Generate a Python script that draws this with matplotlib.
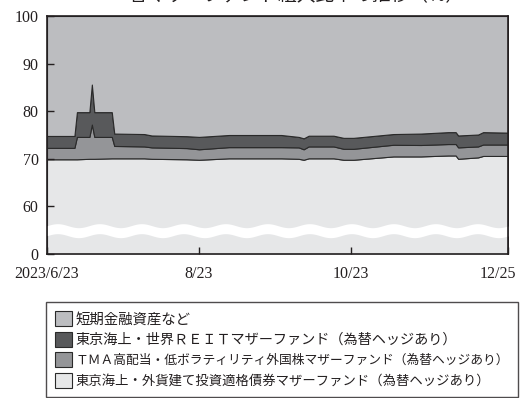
import numpy as np
import pandas as pd
import matplotlib
matplotlib.use("Agg")
import matplotlib.pyplot as plt
import matplotlib.transforms as mtransforms
from matplotlib.patches import Patch

# ---- data (percent shares of each mother fund) ----
dates = ["2023-06-23", "2023-07-04", "2023-07-05", "2023-07-10", "2023-07-11",
         "2023-07-12", "2023-07-19", "2023-07-20", "2023-08-01", "2023-08-04",
         "2023-08-18", "2023-08-23", "2023-09-04", "2023-09-25", "2023-10-02",
         "2023-10-04", "2023-10-06", "2023-10-16", "2023-10-20", "2023-10-24",
         "2023-11-09", "2023-11-20", "2023-12-01", "2023-12-04", "2023-12-05",
         "2023-12-13", "2023-12-15", "2023-12-25"]
bond = [69.9, 69.9, 69.9, 70.0, 70.0, 70.0, 70.1, 70.1, 70.1, 70.0,
        69.9, 69.8, 70.1, 70.1, 70.0, 69.8, 70.1, 70.1, 69.8, 69.8,
        70.5, 70.5, 70.7, 70.7, 70.0, 70.3, 70.6, 70.6]
tma = [2.4, 2.4, 4.7, 4.6, 7.2, 4.6, 4.5, 2.6, 2.5, 2.4,
       2.35, 2.2, 2.35, 2.35, 2.4, 2.2, 2.5, 2.5, 2.3, 2.3,
       2.45, 2.4, 2.4, 2.4, 2.4, 2.3, 2.4, 2.4]
reit = [2.5, 2.5, 5.2, 5.2, 8.4, 5.2, 5.2, 2.6, 2.6, 2.5,
        2.5, 2.6, 2.55, 2.55, 2.2, 2.3, 2.25, 2.25, 2.3, 2.3,
        2.25, 2.4, 2.5, 2.5, 2.5, 2.5, 2.6, 2.5]

labels = ["短期金融資産など",
          "東京海上・世界ＲＥＩＴマザーファンド（為替ヘッジあり）",
          "ＴＭＡ高配当・低ボラティリティ外国株マザーファンド（為替ヘッジあり）",
          "東京海上・外貨建て投資適格債券マザーファンド（為替ヘッジあり）"]
tick_dates = ["2023-06-23", "2023-08-23", "2023-10-23", "2023-12-25"]
tick_labels = ["2023/6/23", "8/23", "10/23", "12/25"]
y_ticks = [50, 60, 70, 80, 90, 100]
y_labels = ["0", "60", "70", "80", "90", "100"]
title = "各マザーファンド組入比率の推移（%）"

c_short = "#bcbdc0"
c_reit = "#58595b"
c_tma = "#949598"
c_bond = "#e6e7e8"

x = pd.to_datetime(dates)
bond_a = np.array(bond)
tma_a = np.array(tma)
reit_a = np.array(reit)
short_a = 100 - bond_a - tma_a - reit_a

plt.rcParams['font.family'] = ['Liberation Serif', 'Noto Sans CJK JP']

fig = plt.figure(figsize=(5.22, 3.98), dpi=100)
ax = fig.add_axes([47/522, 1-254/398, (508-47)/522, (254-16)/398])

ax.stackplot(x, bond_a, tma_a, reit_a, short_a,
             colors=[c_bond, c_tma, c_reit, c_short],
             edgecolor="#2a2a2a", linewidth=0.8)

ax.set_xlim(x[0], x[-1])
ax.set_ylim(50, 100)
ax.set_yticks(y_ticks)
ax.set_yticklabels(y_labels)
ax.set_xticks(pd.to_datetime(tick_dates))
ax.set_xticklabels(tick_labels)
ax.tick_params(direction='in', length=5, width=1, colors="#231f20",
               labelsize=11.5)
ax.tick_params(axis='y', pad=6)
ax.tick_params(axis='x', pad=9)
for s in ax.spines.values():
    s.set_linewidth(1.2)
    s.set_color("#231f20")
    s.set_zorder(5)

# shift last x tick label so it stays inside the figure
lab = ax.get_xticklabels()[-1]
lab.set_transform(lab.get_transform() + mtransforms.ScaledTranslation(-10/100, 0, fig.dpi_scale_trans))

# axis break wave
blend = mtransforms.blended_transform_factory(ax.transAxes, ax.transData)
xs = np.linspace(0, 1, 500)
wave = 0.42 * np.sin(2 * np.pi * xs * (461 / 42.0))
ax.fill_between(xs, 53.85 + wave, 55.95 + wave, color="white", lw=0,
                transform=blend, zorder=4)

# title (mostly cut off at top)
fig.text(296/522, 1 - 5/398, title, ha='center', va='bottom',
         fontsize=13.5, family=['Noto Sans CJK JP'], color="#231f20")

handles = [Patch(facecolor=c, edgecolor="#2a2a2a", linewidth=0.8)
           for c in [c_short, c_reit, c_tma, c_bond]]
leg = fig.legend(handles, labels, loc='upper left',
                 bbox_to_anchor=(46/522, 1 - 302/398),
                 prop={'family': 'Noto Sans CJK JP', 'size': 10},
                 frameon=True, fancybox=False, edgecolor="#231f20",
                 handlelength=1.25, handleheight=1.3, handletextpad=0.25,
                 labelspacing=0.38, borderpad=0.65, borderaxespad=0)
leg.get_frame().set_linewidth(1.0)
for t, fs in zip(leg.get_texts(), [10.4, 10.2, 9.2, 9.6]):
    t.set_fontsize(fs)
    t.set_color("#231f20")

fig.savefig("out.png", dpi=100)
